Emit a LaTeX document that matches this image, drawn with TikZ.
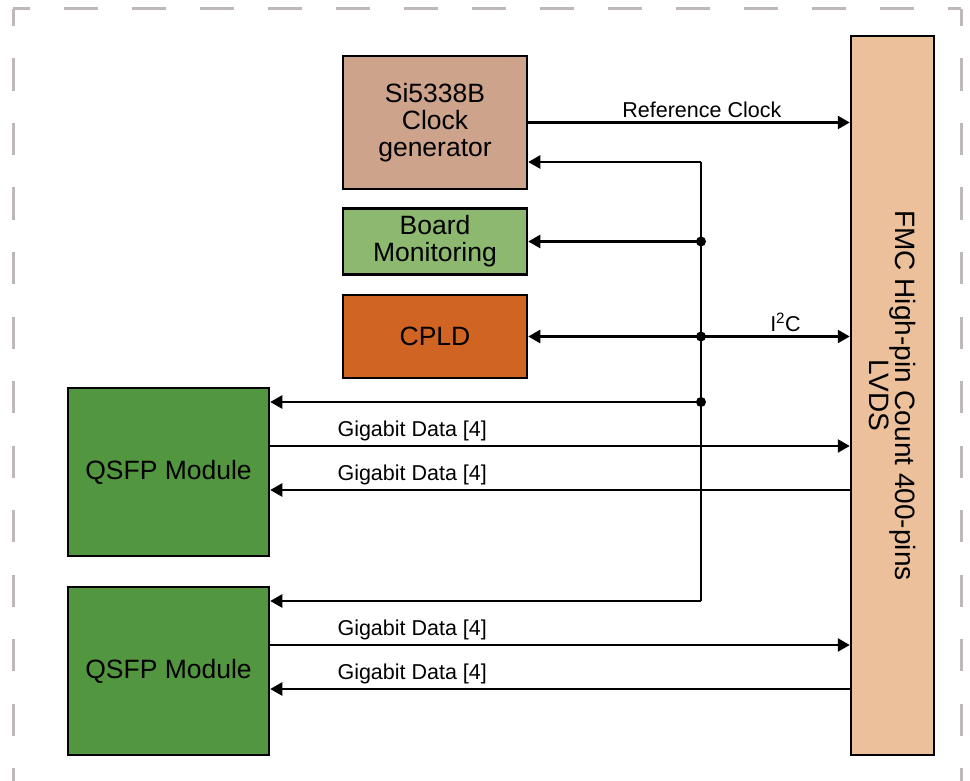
\documentclass[tikz,border=0pt]{standalone}
\usepackage{fontspec}
\setmainfont{Liberation Sans}
\usetikzlibrary{arrows.meta, positioning}

\definecolor{clockcol}{HTML}{CDA38C}
\definecolor{moncol}{HTML}{8DB870}
\definecolor{cpldcol}{HTML}{D06422}
\definecolor{qsfpcol}{HTML}{529640}
\definecolor{fmccol}{HTML}{EBC09A}
\definecolor{framecol}{HTML}{BEB8B8}

\begin{document}
\begin{tikzpicture}
	[x=1pt, y=-1pt, >={Triangle[length=12pt,width=13pt]}, line width=2.5pt,
	block/.style={draw, inner sep=0pt, align=center, font=\fontsize{26.5}{27}\selectfont},
	sig/.style={font=\fontsize{21.5}{23}\selectfont, inner sep=4pt},
	junction/.style={circle, fill, inner sep=0pt, minimum size=10pt}]
	\useasboundingbox (0,0) rectangle (970,781);
	% dashed frame
	\begin{scope}[framecol, line width=3pt]
	\draw[dash pattern=on 34pt off 34pt, dash phase=17pt] (13,9) -- (961,9);
	\draw[dash pattern=on 32.2pt off 32.3pt, dash phase=15pt] (13,9) -- (13,800);
	\draw[dash pattern=on 32.2pt off 32.3pt, dash phase=15pt] (961,9) -- (961,800);
	\end{scope}
	% blocks
	\node (Clk) [block, fill=clockcol, minimum width=184pt, minimum height=133pt] at (435,122.5) {Si5338B\\Clock\\generator};
	\node (Mon) [block, fill=moncol, minimum width=184pt, minimum height=66pt, below = 17pt of Clk] {Board\\Monitoring};
	\node (CPLD) [block, fill=cpldcol, minimum width=184pt, minimum height=83pt, below = 18pt of Mon] {CPLD};
	\node (Q1) [block, fill=qsfpcol, minimum width=201pt, minimum height=168pt] at (168.5,472) {QSFP Module};
	\node (Q2) [block, fill=qsfpcol, minimum width=201pt, minimum height=168pt] at (168.5,671) {QSFP Module};
	\node (FMC) [block, fill=fmccol, minimum width=83pt, minimum height=719pt] at (892.5,395.5) {};
	\node [rotate=-90, align=center, font=\fontsize{28}{27}\selectfont] at (FMC.center) {FMC High-pin Count 400-pins\\LVDS};
	% control bus
	\coordinate (BusTop) at (701,162);
	\coordinate (BusBot) at (701,601);
	\draw (BusTop) -- (BusBot);
	\draw[->] (BusTop) -- (BusTop -| Clk.east);
	\draw[->] (Mon.east -| BusTop) -- (Mon.east);
	\draw[->] ([yshift=70pt]Q1.east -| BusTop) -- ([yshift=70pt]Q1.east);
	\draw[->] (BusBot) -- (BusBot -| Q2.east);
	\node[junction] at (Mon.east -| BusTop) {};
	\node[junction] at (CPLD.east -| BusTop) {};
	\node[junction] at ([yshift=70pt]Q1.east -| BusTop) {};
	% links to the FMC
	\draw[->] (Clk.east) -- node[sig, pos=0.54, above] {Reference Clock} (Clk.east -| FMC.west);
	\draw[<->] (CPLD.east) -- node[sig, pos=0.8, above] {I\textsuperscript{2}C} (CPLD.east -| FMC.west);
	\foreach \q in {Q1,Q2} {
		\draw[->] ([yshift=26pt]\q.east) -- node[sig, pos=0.245, above] {Gigabit Data [4]} ([yshift=26pt]\q.east -| FMC.west);
		\draw[<-] ([yshift=-18pt]\q.east) -- node[sig, pos=0.245, above] {Gigabit Data [4]} ([yshift=-18pt]\q.east -| FMC.west);
	}
\end{tikzpicture}
\end{document}
